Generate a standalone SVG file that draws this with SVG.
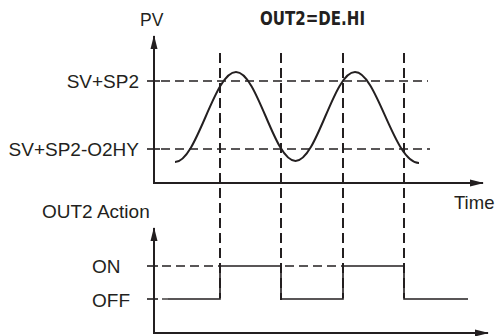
<svg xmlns="http://www.w3.org/2000/svg" width="499" height="336" viewBox="0 0 499 336">
<defs>
<style>
.lbl{font-family:"Liberation Sans",Arial,sans-serif;font-size:19px;fill:#231f20}
.title{font-family:"Liberation Sans Narrow","DejaVu Sans Condensed","Liberation Sans",sans-serif;font-weight:bold;font-size:19.5px;fill:#231f20}
.axis{stroke:#231f20;stroke-width:2;fill:none}
.hd{stroke:#231f20;stroke-width:1.3;stroke-dasharray:9 5;fill:none}
.vd{stroke:#231f20;stroke-width:2;stroke-dasharray:10 5;fill:none}
.wave{stroke:#231f20;stroke-width:2;fill:none}
.step{stroke:#231f20;stroke-width:1.6;fill:none}
.tick{stroke:#231f20;stroke-width:1.6}
</style>
<marker id="arr" markerWidth="14" markerHeight="8" refX="13" refY="4" orient="auto" markerUnits="userSpaceOnUse">
<path d="M0,0.5 L14,4 L0,7.5 Z" fill="#231f20"/>
</marker>
</defs>
<g id="title"><text class="title" x="260" y="25" textLength="105" lengthAdjust="spacingAndGlyphs">OUT2=DE.HI</text></g>
<g id="labels">
<text class="lbl" x="140" y="26" style="font-size:17.5px">PV</text>
<text class="lbl" x="139" y="88" text-anchor="end">SV+SP2</text>
<text class="lbl" x="139" y="155.5" text-anchor="end">SV+SP2-O2HY</text>
<text class="lbl" x="454" y="209" style="font-size:18.5px">Time</text>
<text class="lbl" x="42" y="218">OUT2 Action</text>
<text class="lbl" x="92" y="272.5">ON</text>
<text class="lbl" x="92" y="306.5">OFF</text>
</g>
<g id="connectors">
<line class="axis" x1="154" y1="183" x2="154" y2="36" marker-end="url(#arr)"/>
<line class="axis" x1="153" y1="183" x2="483" y2="183" marker-end="url(#arr)"/>
<line class="axis" x1="154" y1="334" x2="154" y2="228" marker-end="url(#arr)"/>
<line class="axis" x1="153" y1="333" x2="488" y2="333" marker-end="url(#arr)"/>
<line class="tick" x1="147" y1="81" x2="160" y2="81"/>
<line class="tick" x1="147" y1="149" x2="160" y2="149"/>
<line class="tick" x1="147" y1="266" x2="158" y2="266"/>
<line class="tick" x1="147" y1="299" x2="158" y2="299"/>
<line class="hd" x1="161" y1="81" x2="428" y2="81"/>
<line class="hd" x1="161" y1="149" x2="430" y2="149"/>
<line class="hd" x1="162" y1="266" x2="220" y2="266"/>
<line class="hd" x1="285" y1="266" x2="343" y2="266"/>
<line class="hd" x1="162" y1="299" x2="168" y2="299"/>
<line class="vd" x1="220" y1="53" x2="220" y2="298"/>
<line class="vd" x1="281" y1="53" x2="281" y2="300"/>
<line class="vd" x1="343" y1="53" x2="343" y2="298"/>
<line class="vd" x1="404" y1="53" x2="404" y2="298"/>
<path class="wave" d="M175,162 C197,162 214,72 236,72 C257.6,72 273.9,161 295.5,161 C317.1,161 333.4,72 355,72 C377,72 394,163 419,163"/>
<path class="step" d="M168,299 H220 V266 H281 V299 H343 V266 H404 V299 H468"/>
</g>
</svg>
